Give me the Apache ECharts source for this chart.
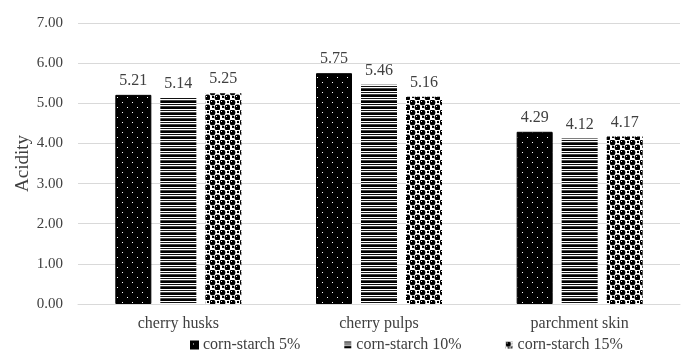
<!DOCTYPE html>
<html>
<head>
<meta charset="utf-8">
<script src="https://cdn.jsdelivr.net/npm/echarts@6/dist/echarts.min.js"></script>
<style>
  html, body { margin: 0; padding: 0; background: #fff; }
  #chart { width: 686px; height: 356px; }
</style>
</head>
<body>
<div id="chart"></div>
<script>
// Acidity of coffee by-product films at three corn-starch levels
const categories = ['cherry husks', 'cherry pulps', 'parchment skin'];
const seriesNames = ['corn-starch 5%', 'corn-starch 10%', 'corn-starch 15%'];
const starch5 = [5.21, 5.75, 4.29];
const starch10 = [5.14, 5.46, 4.12];
const starch15 = [5.25, 5.16, 4.17];
const yTicks = { min: 0, max: 7, interval: 1 };

const FONT = '"Liberation Serif", "Times New Roman", serif';

// Fill patterns: black with white dots, horizontal stripes, sphere lattice
function dotPattern() {
  const c = document.createElement('canvas');
  c.width = 10; c.height = 10;
  const g = c.getContext('2d');
  g.fillStyle = '#000'; g.fillRect(0, 0, 10, 10);
  g.fillStyle = '#fff';
  g.fillRect(2, 2, 1, 1);
  g.fillRect(7, 7, 1, 1);
  return c;
}
function stripePattern() {
  const c = document.createElement('canvas');
  c.width = 4; c.height = 6;
  const g = c.getContext('2d');
  g.fillStyle = '#fff'; g.fillRect(0, 0, 4, 6);
  const rows = ['#000', '#fff', '#111', '#fff', '#444', '#000'];
  rows.forEach((col, i) => { g.fillStyle = col; g.fillRect(0, i, 4, 1); });
  return c;
}
function spherePattern() {
  const c = document.createElement('canvas');
  c.width = 10; c.height = 10;
  const g = c.getContext('2d');
  g.fillStyle = '#fff'; g.fillRect(0, 0, 10, 10);
  g.fillStyle = '#000';
  [[2.5, 2.5], [7.5, 7.5]].forEach(([x, y]) => {
    g.beginPath(); g.arc(x, y, 2.9, 0, Math.PI * 2); g.fill();
  });
  g.fillRect(7, 1, 2, 2);
  g.fillRect(2, 6, 2, 2);
  g.fillStyle = '#fff';
  g.fillRect(1, 1, 1, 1);
  g.fillRect(6, 6, 1, 1);
  return c;
}
const fills = [
  { image: dotPattern(), repeat: 'repeat' },
  { image: stripePattern(), repeat: 'repeat' },
  { image: spherePattern(), repeat: 'repeat' }
];
const values = [starch5, starch10, starch15];

const chart = echarts.init(document.getElementById('chart'), null, { renderer: 'canvas' });

const series = seriesNames.map((name, i) => ({
  name: name,
  type: 'bar',
  data: values[i],
  barWidth: 36,
  barGap: '25%',
  itemStyle: { color: fills[i], borderColor: i === 0 ? '#000' : 'transparent', borderWidth: i === 0 ? 1 : 0 },
  label: {
    show: true,
    position: 'top',
    distance: 6,
    formatter: p => p.value.toFixed(2),
    color: '#404040',
    fontFamily: FONT,
    fontSize: 16
  }
}));

chart.setOption({
  animation: false,
  backgroundColor: '#fff',
  textStyle: { fontFamily: FONT },
  grid: { left: 78, right: 6, top: 23, bottom: 52, containLabel: false },
  legend: {
    top: 332,
    left: 185,
    itemWidth: 7,
    itemHeight: 7,
    itemGap: 44,
    icon: 'rect',
    textStyle: { color: '#404040', fontFamily: FONT, fontSize: 16 },
    data: seriesNames
  },
  xAxis: {
    type: 'category',
    data: categories,
    axisLine: { show: true, lineStyle: { color: '#d9d9d9' } },
    axisTick: { show: false },
    axisLabel: { color: '#404040', fontFamily: FONT, fontSize: 16, margin: 12 }
  },
  yAxis: {
    type: 'value',
    min: yTicks.min,
    max: yTicks.max,
    interval: yTicks.interval,
    name: 'Acidity',
    nameLocation: 'middle',
    nameGap: 45,
    nameRotate: 90,
    nameMoveOverlap: false,
    nameTextStyle: { color: '#404040', fontFamily: FONT, fontSize: 19 },
    axisLine: { show: false },
    axisTick: { show: false },
    splitLine: { lineStyle: { color: '#d9d9d9', width: 1 } },
    axisLabel: { color: '#404040', fontFamily: FONT, fontSize: 15, margin: 15, formatter: v => v.toFixed(2) }
  },
  series: series
});
</script>
</body>
</html>
